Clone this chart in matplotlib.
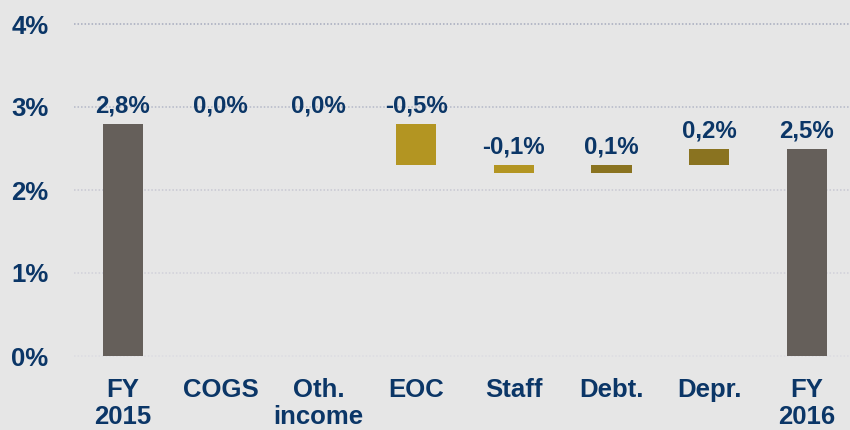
import matplotlib
matplotlib.use("Agg")
import matplotlib.pyplot as plt
import numpy as np

categories = ["FY\n2015", "COGS", "Oth.\nincome", "EOC", "Staff", "Debt.", "Depr.", "FY\n2016"]
start_value = 2.8
deltas = [0.0, 0.0, -0.5, -0.1, 0.1, 0.2]
end_value = 2.5
labels = ["2,8%", "0,0%", "0,0%", "-0,5%", "-0,1%", "0,1%", "0,2%", "2,5%"]
y_ticks = [0, 1, 2, 3, 4]
y_tick_labels = ["0%", "1%", "2%", "3%", "4%"]

total_color = "#655f5a"
delta_colors = ["#b39522", "#b39522", "#b39522", "#b39522", "#8a7320", "#8a7320"]
grid_colors = ["#dcdce2", "#d0d0d9", "#c7c7d2", "#b4b8c7", "#a5aabd"]
text_color = "#0b3667"
bg = "#e6e6e6"

plt.rcParams["font.family"] = ["Liberation Sans", "DejaVu Sans"]
plt.rcParams["font.weight"] = "bold"

fig = plt.figure(figsize=(8.5, 4.3), dpi=100, facecolor=bg)
ax = fig.add_axes([74 / 850, (430 - 356) / 430, 1 - 74 / 850, (356 - 24) / 430])
ax.set_facecolor(bg)

x = np.arange(len(categories))
bottoms, heights, colors = [], [], []
bottoms.append(0); heights.append(start_value); colors.append(total_color)
level = start_value
for d, c in zip(deltas, delta_colors):
    new = level + d
    bottoms.append(min(level, new)); heights.append(abs(d)); colors.append(c)
    level = new
bottoms.append(0); heights.append(end_value); colors.append(total_color)

ax.bar(x, heights, bottom=bottoms, width=0.41, color=colors, zorder=3)

for xi, b, h, lab in zip(x, bottoms, heights, labels):
    ax.annotate(lab, (xi, b + h), xytext=(0, 4.5), textcoords="offset points",
                ha="center", va="bottom", fontsize=17.3, fontweight="bold",
                color=text_color, zorder=4)

for yv, gc in zip(y_ticks, grid_colors):
    ax.axhline(yv, color=gc, linestyle=(0, (1, 1.3)), linewidth=1.1, zorder=0, clip_on=False)

ax.set_xlim(-0.5, 7.44)
ax.set_ylim(0, 4)
ax.set_yticks(y_ticks)
ax.set_yticklabels(y_tick_labels)
ax.set_xticks(x)
ax.set_xticklabels(categories, linespacing=1.17)
ax.tick_params(axis="both", length=0, labelsize=18.5, labelcolor=text_color)
ax.tick_params(axis="y", pad=18.5)
ax.tick_params(axis="x", pad=16)
for s in ax.spines.values():
    s.set_visible(False)

fig.savefig("out.png", dpi=100, facecolor=bg)
